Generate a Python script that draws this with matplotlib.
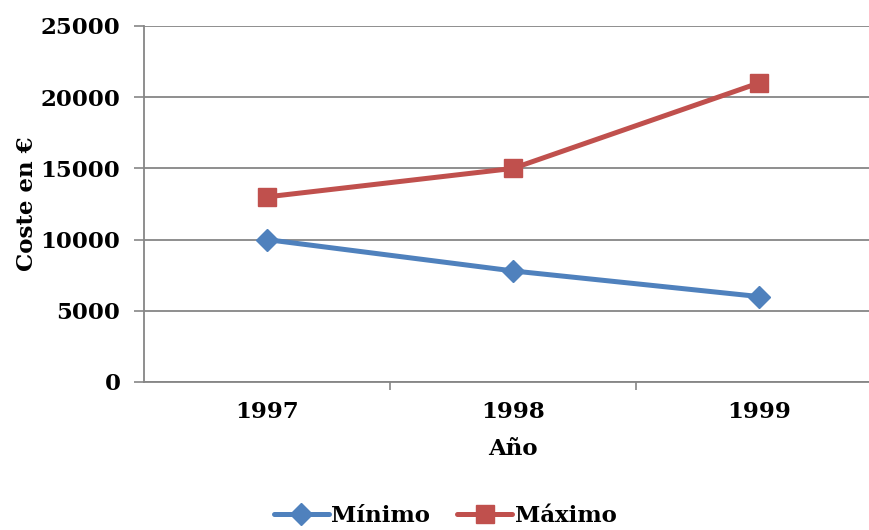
import matplotlib
matplotlib.use("Agg")
import matplotlib.pyplot as plt
from matplotlib.ticker import FixedLocator

years = ["1997", "1998", "1999"]
minimo = [10000, 7800, 6000]
maximo = [13000, 15000, 21000]
y_ticks = [0, 5000, 10000, 15000, 20000, 25000]

plt.rcParams["font.family"] = ["DejaVu Serif"]
plt.rcParams["font.weight"] = "bold"

W, H = 870, 530
fig = plt.figure(figsize=(W / 100, H / 100), dpi=100)
ax = fig.add_axes([144 / W, 1 - 382 / H, (882 - 144) / W, (382 - 26) / H])

blue = "#4F81BD"
red = "#C0504D"
grid = "#868686"
fs = 16.5

x = list(range(len(years)))
ax.plot(x, minimo, color=blue, lw=3.6, marker="D", ms=11, label="Mínimo",
        solid_capstyle="round", zorder=3)
ax.plot(x, maximo, color=red, lw=3.6, marker="s", ms=13, label="Máximo",
        solid_capstyle="round", zorder=3)

ax.set_xlim(-0.5, len(years) - 0.5)
ax.set_ylim(0, 25000)
ax.set_yticks(y_ticks)
ax.set_yticklabels([str(v) for v in y_ticks], fontsize=fs, fontweight="bold")
ax.set_xticks(x)
ax.set_xticklabels(years, fontsize=fs, fontweight="bold")
ax.tick_params(axis="x", length=0, pad=14)
ax.xaxis.set_minor_locator(FixedLocator([0.5, 1.5]))
ax.tick_params(axis="x", which="minor", length=6, width=1.2, color=grid, direction="out")
ax.tick_params(axis="y", length=7, width=1.2, color=grid, direction="out", pad=10)

ax.grid(axis="y", color=grid, lw=1.3)
ax.set_axisbelow(True)
for s in ["top", "right"]:
    ax.spines[s].set_visible(False)
for s in ["left", "bottom"]:
    ax.spines[s].set_color(grid)
    ax.spines[s].set_linewidth(1.3)

ax.set_ylabel("Coste en €", fontsize=fs, fontweight="bold")
ax.set_xlabel("Año", fontsize=fs, fontweight="bold")
ax.yaxis.set_label_coords(-(144 - 27) / (882 - 144), 0.5)
ax.xaxis.set_label_coords((513 - 144) / (882 - 144), -(449 - 382) / (382 - 26))
ax.xaxis.label.set_va("center")
ax.yaxis.label.set_va("center")

leg = fig.legend(loc="center", bbox_to_anchor=(445 / W, 1 - 516 / H), ncol=2,
                 frameon=False, prop={"size": fs, "weight": "bold"},
                 handlelength=2.4, handletextpad=0.1, columnspacing=1.2)

fig.savefig("out.png", dpi=100)
